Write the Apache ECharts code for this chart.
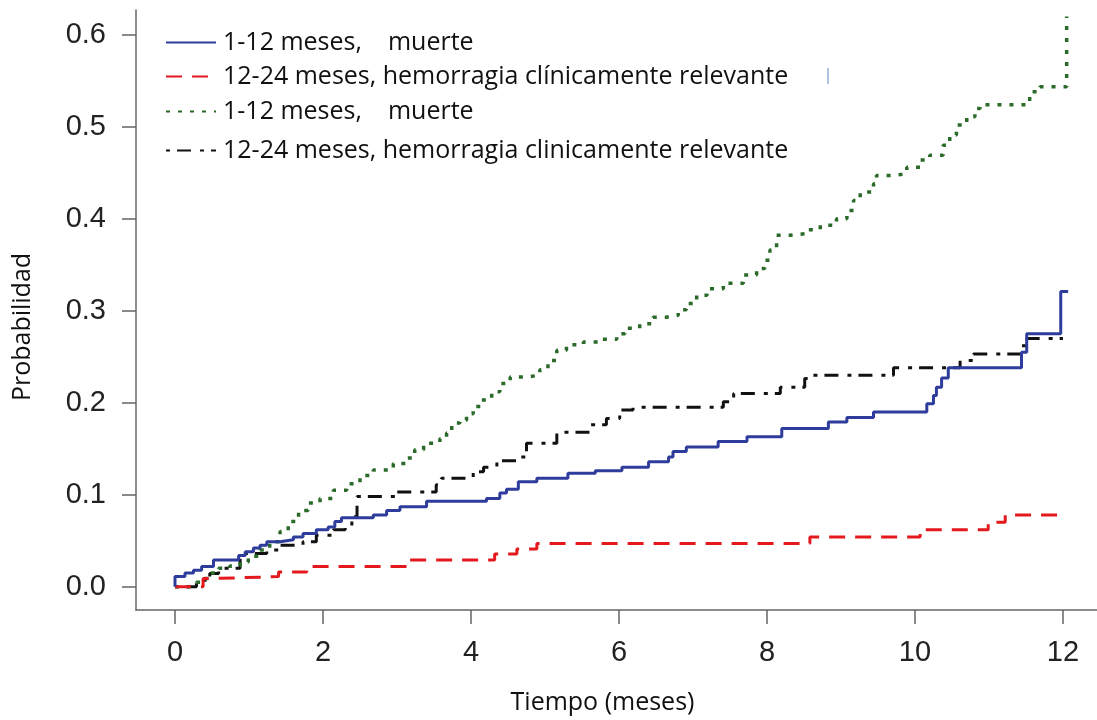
<!DOCTYPE html>
<html>
<head>
<meta charset="utf-8">
<script src="https://cdn.jsdelivr.net/npm/echarts@6/dist/echarts.min.js"></script>
<style>
  html, body { margin: 0; padding: 0; background: #fff; }
  #main { width: 1097px; height: 720px; }
</style>
</head>
<body>
<div id="main"></div>
<script>
// tiempo (meses) y probabilidad acumulada
var azulT = [0, 0, 0.135, 0.25, 0.36, 0.52, 0.86, 0.95, 1.06, 1.15, 1.24, 1.42, 1.60, 1.73, 1.91, 2.07, 2.16, 2.25, 2.68, 2.86, 3.04, 3.40, 4.21, 4.39, 4.48, 4.64, 4.89, 5.31, 5.68, 6.04, 6.40, 6.67, 6.73, 6.91, 7.34, 7.73, 8.20, 8.83, 9.08, 9.44, 10.16, 10.25, 10.29, 10.36, 10.45, 11.44, 11.51, 11.97, 12.07];
var azulP = [0, 0.011, 0.015, 0.018, 0.022, 0.029, 0.034, 0.038, 0.042, 0.045, 0.049, 0.051, 0.054, 0.058, 0.062, 0.065, 0.071, 0.075, 0.078, 0.083, 0.087, 0.093, 0.096, 0.102, 0.106, 0.114, 0.118, 0.1235, 0.126, 0.130, 0.136, 0.141, 0.147, 0.152, 0.158, 0.163, 0.172, 0.179, 0.184, 0.190, 0.199, 0.208, 0.217, 0.227, 0.238, 0.255, 0.275, 0.321, 0.321];

var rojoT = [0, 0.38, 0.54, 1.40, 1.78, 3.15, 4.32, 4.62, 4.89, 8.58, 10.07, 10.99, 11.22, 12.03];
var rojoP = [0, 0.009, 0.011, 0.016, 0.022, 0.029, 0.0355, 0.041, 0.047, 0.054, 0.062, 0.070, 0.078, 0.078];

var verdeT = [0, 0.2, 0.29, 0.38, 0.47, 0.59, 0.74, 0.88, 0.99, 1.15, 1.28, 1.42, 1.53, 1.67, 1.80, 1.96, 2.14, 2.32, 2.50, 2.68, 2.95, 3.13, 3.24, 3.36, 3.58, 3.67, 3.74, 3.85, 3.94, 4.03, 4.14, 4.28, 4.39, 4.53, 4.75, 4.93, 5.04, 5.16, 5.29, 5.52, 5.74, 5.97, 6.08, 6.28, 6.46, 6.64, 6.80, 6.91, 7.05, 7.19, 7.41, 7.68, 7.86, 7.97, 8.04, 8.13, 8.31, 8.54, 8.72, 8.94, 9.08, 9.17, 9.26, 9.44, 9.48, 9.71, 9.89, 10.07, 10.20, 10.38, 10.47, 10.56, 10.70, 10.81, 10.88, 11.55, 11.69, 12.05];
var verdeP = [0, 0.002, 0.005, 0.009, 0.015, 0.020, 0.0225, 0.027, 0.033, 0.040, 0.049, 0.060, 0.071, 0.083, 0.091, 0.096, 0.105, 0.112, 0.121, 0.127, 0.134, 0.140, 0.149, 0.156, 0.161, 0.167, 0.178, 0.181, 0.188, 0.196, 0.203, 0.212, 0.221, 0.228, 0.230, 0.236, 0.246, 0.257, 0.263, 0.266, 0.269, 0.275, 0.281, 0.286, 0.293, 0.295, 0.301, 0.308, 0.317, 0.324, 0.330, 0.339, 0.346, 0.355, 0.366, 0.382, 0.384, 0.388, 0.393, 0.400, 0.409, 0.420, 0.429, 0.438, 0.447, 0.449, 0.456, 0.464, 0.469, 0.480, 0.491, 0.502, 0.511, 0.520, 0.524, 0.538, 0.5435, 0.62];

var negroT = [0, 0.29, 0.38, 0.47, 0.59, 0.88, 1.24, 1.40, 1.73, 1.91, 2.14, 2.30, 2.39, 2.46, 3.00, 3.53, 3.60, 4.03, 4.17, 4.35, 4.62, 4.75, 5.16, 5.61, 5.83, 6.01, 6.19, 7.41, 7.55, 8.18, 8.51, 8.58, 9.71, 10.61, 10.79, 11.42, 11.51, 12.00];
var negroP = [0, 0.004, 0.007, 0.0145, 0.020, 0.036, 0.040, 0.045, 0.049, 0.056, 0.062, 0.065, 0.076, 0.098, 0.103, 0.111, 0.118, 0.125, 0.130, 0.137, 0.141, 0.156, 0.168, 0.176, 0.183, 0.192, 0.195, 0.201, 0.210, 0.217, 0.2265, 0.230, 0.238, 0.246, 0.253, 0.262, 0.270, 0.270];

var leyenda = [
  "1-12 meses,    muerte",
  "12-24 meses, hemorragia clínicamente relevante",
  "1-12 meses,    muerte",
  "12-24 meses, hemorragia clinicamente relevante"
];
var ticksX = [0, 2, 4, 6, 8, 10, 12];
var ticksY = [0, 0.1, 0.2, 0.3, 0.4, 0.5, 0.6];

function pares(t, p) {
  var out = [];
  for (var i = 0; i < t.length; i++) out.push([t[i], p[i]]);
  return out;
}

var ids = ["s0", "s1", "s2", "s3"];
var datos = [pares(azulT, azulP), pares(rojoT, rojoP), pares(verdeT, verdeP), pares(negroT, negroP)];
var colores = ["#2e3d9c", "#e3191d", "#2a6b2a", "#111111"];
var trazos = ["solid", [16, 10], [4, 8], [4, 7, 14, 9]];
var grosor = [3, 3, 3.5, 3];
var filas = [25, 59, 94, 133];

var myChart = echarts.init(document.getElementById("main"));

var series = ids.map(function (id, i) {
  return {
    name: id,
    type: "line",
    step: "end",
    symbol: "none",
    data: datos[i],
    lineStyle: { color: colores[i], width: grosor[i], type: trazos[i] },
    itemStyle: { color: colores[i] },
    z: 4 - i
  };
});

// una leyenda por fila para respetar el espaciado irregular
var legends = ids.map(function (id, i) {
  return {
    data: [id],
    left: 160,
    top: filas[i],
    itemWidth: 50,
    itemHeight: 26,
    selectedMode: false,
    itemStyle: { opacity: 0, borderWidth: 0 },
    formatter: function () { return leyenda[i]; },
    textStyle: {
      fontFamily: "Open Sans",
      fontSize: 25,
      color: "#111",
      padding: [0, 0, 0, 2]
    }
  };
});

myChart.setOption({
  animation: false,
  backgroundColor: "#fff",
  grid: { left: 136, right: 0, top: 10, bottom: 110, containLabel: false, outerBoundsMode: "none" },
  legend: legends,
  xAxis: {
    type: "value",
    min: -0.527,
    max: 12.46,
    name: "Tiempo (meses)",
    nameLocation: "middle",
    nameGap: 80,
    nameTextStyle: { fontFamily: "Open Sans", fontSize: 25, color: "#111", padding: [0, 28, 0, 0] },
    axisLine: { show: true, onZero: false, lineStyle: { color: "#666", width: 1.5 } },
    axisTick: { show: true, length: 14, customValues: ticksX, lineStyle: { color: "#666", width: 1.5 } },
    axisLabel: { customValues: ticksX, margin: 28, fontFamily: "Liberation Sans", fontSize: 29, color: "#222" },
    splitLine: { show: false }
  },
  yAxis: {
    type: "value",
    min: -0.0253,
    max: 0.627,
    name: "Probabilidad",
    nameLocation: "middle",
    nameGap: 101,
    nameRotate: 90,
    nameTextStyle: { fontFamily: "Open Sans", fontSize: 25, color: "#111", padding: [0, 34, 0, 0] },
    axisLine: { show: true, onZero: false, lineStyle: { color: "#666", width: 1.5 } },
    axisTick: { show: true, length: 14, customValues: ticksY, lineStyle: { color: "#666", width: 1.5 } },
    axisLabel: {
      customValues: ticksY,
      margin: 30,
      fontFamily: "Liberation Sans",
      fontSize: 29,
      color: "#222",
      formatter: function (v) { return v.toFixed(1); }
    },
    splitLine: { show: false }
  },
  graphic: [{
    type: "line",
    shape: { x1: 828, y1: 68, x2: 828, y2: 84 },
    style: { stroke: "#8fb0d8", lineWidth: 1.5 }
  }],
  series: series
});
</script>
</body>
</html>
